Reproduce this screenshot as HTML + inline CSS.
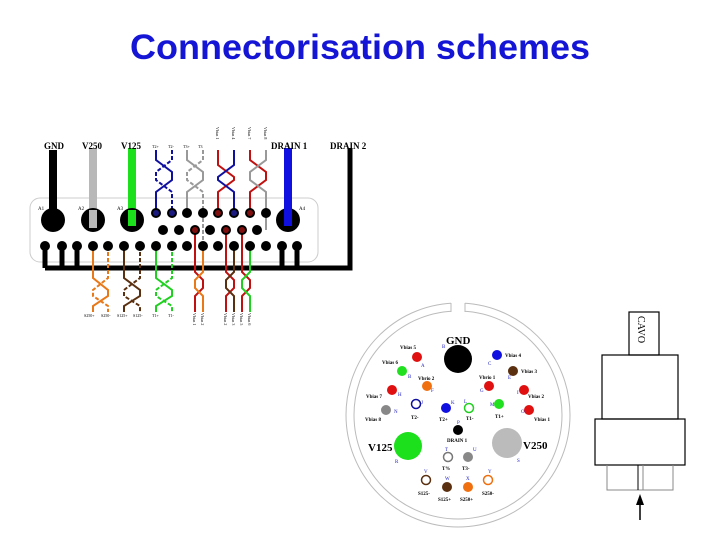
<!DOCTYPE html>
<html><head><meta charset="utf-8"><style>
body{margin:0;background:#fff;width:720px;height:540px;overflow:hidden}
svg{display:block}
text{font-family:"Liberation Serif",serif}
</style></head><body>
<svg width="720" height="540" viewBox="0 0 720 540" xmlns="http://www.w3.org/2000/svg">
<text x="130" y="59" textLength="460" lengthAdjust="spacingAndGlyphs" style="font-family:'Liberation Sans',sans-serif;font-size:35px;font-weight:bold;fill:#1515d6">Connectorisation schemes</text>

<rect x="30" y="198" width="288" height="64" rx="10" fill="none" stroke="#ccc" stroke-width="1"/>

<path d="M45 268 H350 V148" fill="none" stroke="#000" stroke-width="5"/>
<g stroke="#000" stroke-width="5">
<line x1="45" y1="246" x2="45" y2="268"/><line x1="62" y1="246" x2="62" y2="268"/><line x1="77" y1="246" x2="77" y2="268"/>
<line x1="282" y1="246" x2="282" y2="268"/><line x1="297" y1="246" x2="297" y2="268"/>
</g>

<line x1="53" y1="150" x2="53" y2="220" stroke="#000" stroke-width="8"/>
<line x1="93" y1="148" x2="93" y2="220" stroke="#b8b8b8" stroke-width="8"/>
<line x1="132" y1="148" x2="132" y2="220" stroke="#1be01b" stroke-width="8"/>
<circle cx="53" cy="220" r="12" fill="#000"/>
<circle cx="93" cy="220" r="12" fill="#000"/><line x1="93" y1="210" x2="93" y2="228" stroke="#b8b8b8" stroke-width="8"/>
<circle cx="132" cy="220" r="12" fill="#000"/><line x1="132" y1="210" x2="132" y2="226" stroke="#1be01b" stroke-width="8"/>
<circle cx="288" cy="220" r="12" fill="#000"/>
<line x1="288" y1="148" x2="288" y2="226" stroke="#1010e0" stroke-width="8"/>

<g font-size="9" font-weight="bold">
<text x="44" y="149">GND</text><text x="82" y="149">V250</text><text x="121" y="149">V125</text>
<text x="271" y="149">DRAIN 1</text><text x="330" y="149">DRAIN 2</text>
</g>
<g font-size="5">
<text x="38" y="210">A1</text><text x="78" y="210">A2</text><text x="117" y="210">A3</text><text x="299" y="210">A4</text>
</g>

<g fill="none" stroke-width="2">
<path d="M156 150V160L172 172V180L156 192V213" stroke="#1010a0"/>
<path d="M172 150V160L156 172V180L172 192V213" stroke="#1010a0" stroke-dasharray="4 2"/>
<path d="M187 150V160L203 172V180L187 192V213" stroke="#999"/>
<path d="M203 150V160L187 172V180L203 192V246" stroke="#999" stroke-dasharray="4 2"/>
<path d="M218 150V165L234 177V180L218 192V213" stroke="#c01010"/>
<path d="M234 150V165L218 177V180L234 192V213" stroke="#1010a0"/>
<path d="M250 150V160L266 172V180L250 192V213" stroke="#c01010"/>
<path d="M266 150V160L250 172V180L266 192V230" stroke="#999"/>
</g>
<g font-size="4">
<text x="152" y="148">T2+</text><text x="168" y="148">T2-</text><text x="183" y="148">T3+</text><text x="198" y="148">T3</text>
</g>
<g font-size="4">
<text transform="translate(216,145) rotate(90)" x="-18">Vbias 1</text>
<text transform="translate(232,145) rotate(90)" x="-18">Vbias 4</text>
<text transform="translate(248,145) rotate(90)" x="-18">Vbias 7</text>
<text transform="translate(264,145) rotate(90)" x="-18">Vbias 8</text>
</g>

<g fill="none" stroke-width="2">
<path d="M93 246V278L108 290V296L93 306V312" stroke="#e87818"/>
<path d="M108 246V278L93 290V296L108 306V312" stroke="#e87818" stroke-dasharray="4 2"/>
<path d="M124 246V278L140 290V296L124 306V312" stroke="#5a3010"/>
<path d="M140 246V278L124 290V296L140 306V312" stroke="#5a3010" stroke-dasharray="4 2"/>
<path d="M156 246V278L172 290V296L156 306V312" stroke="#20d020"/>
<path d="M172 246V278L156 290V296L172 306V312" stroke="#20d020" stroke-dasharray="4 2"/>
<path d="M195 230V272L203 280V288L195 296V312" stroke="#c01010"/>
<path d="M203 246V272L195 280V288L203 296V312" stroke="#e87818"/>
<path d="M226 230V272L234 280V288L226 296V312" stroke="#c01010"/>
<path d="M234 246V272L226 280V288L234 296V312" stroke="#5a3010"/>
<path d="M242 230V272L250 280V288L242 296V312" stroke="#c01010"/>
<path d="M250 246V272L242 280V288L250 296V312" stroke="#20d020"/>
</g>
<g font-size="4">
<text x="84" y="317">S250+</text><text x="101" y="317">S250-</text><text x="117" y="317">S125+</text><text x="133" y="317">S125-</text><text x="152" y="317">T1+</text><text x="168" y="317">T1-</text>
</g>
<g font-size="4">
<text transform="translate(193,313) rotate(90)">Vbias 1</text>
<text transform="translate(201,313) rotate(90)">Vbias 2</text>
<text transform="translate(224,313) rotate(90)">Vbias 2</text>
<text transform="translate(232,313) rotate(90)">Vbias 3</text>
<text transform="translate(240,313) rotate(90)">Vbias 5</text>
<text transform="translate(248,313) rotate(90)">Vbias 6</text>
</g>

<g fill="#000">
<circle cx="156" cy="213" r="5"/><circle cx="172" cy="213" r="5"/><circle cx="187" cy="213" r="5"/><circle cx="203" cy="213" r="5"/><circle cx="218" cy="213" r="5"/><circle cx="234" cy="213" r="5"/><circle cx="250" cy="213" r="5"/><circle cx="266" cy="213" r="5"/>
<circle cx="163" cy="230" r="5"/><circle cx="179" cy="230" r="5"/><circle cx="195" cy="230" r="5"/><circle cx="210" cy="230" r="5"/><circle cx="226" cy="230" r="5"/><circle cx="242" cy="230" r="5"/><circle cx="257" cy="230" r="5"/>
<circle cx="45" cy="246" r="5"/><circle cx="62" cy="246" r="5"/><circle cx="77" cy="246" r="5"/><circle cx="93" cy="246" r="5"/><circle cx="108" cy="246" r="5"/><circle cx="124" cy="246" r="5"/><circle cx="140" cy="246" r="5"/><circle cx="156" cy="246" r="5"/><circle cx="172" cy="246" r="5"/><circle cx="187" cy="246" r="5"/><circle cx="203" cy="246" r="5"/><circle cx="218" cy="246" r="5"/><circle cx="234" cy="246" r="5"/><circle cx="250" cy="246" r="5"/><circle cx="266" cy="246" r="5"/><circle cx="282" cy="246" r="5"/><circle cx="297" cy="246" r="5"/>
</g>
<g fill="#1a1a80"><circle cx="156" cy="213" r="3"/><circle cx="172" cy="213" r="3"/><circle cx="234" cy="213" r="3"/></g>
<g fill="#801010"><circle cx="218" cy="213" r="3"/><circle cx="250" cy="213" r="3"/><circle cx="195" cy="230" r="3"/><circle cx="226" cy="230" r="3"/><circle cx="242" cy="230" r="3"/></g>

<circle cx="458" cy="415" r="112" fill="none" stroke="#bbb" stroke-width="1"/>
<circle cx="458" cy="415" r="104" fill="none" stroke="#bbb" stroke-width="1"/>
<rect x="451" y="300" width="14" height="14" fill="#fff"/>
<line x1="451" y1="303" x2="451" y2="312" stroke="#bbb"/><line x1="465" y1="303" x2="465" y2="312" stroke="#bbb"/>

<circle cx="458" cy="359" r="14" fill="#000"/>
<circle cx="408" cy="446" r="14" fill="#1be01b"/>
<circle cx="507" cy="443" r="15" fill="#bbb"/>
<g>
<circle cx="417" cy="357" r="5" fill="#e01010"/>
<circle cx="497" cy="355" r="5" fill="#1010e0"/>
<circle cx="513" cy="371" r="5" fill="#5a3010"/>
<circle cx="402" cy="371" r="5" fill="#20e020"/>
<circle cx="427" cy="386" r="5" fill="#f07010"/>
<circle cx="489" cy="386" r="5" fill="#e01010"/>
<circle cx="392" cy="390" r="5" fill="#e01010"/>
<circle cx="524" cy="390" r="5" fill="#e01010"/>
<circle cx="386" cy="410" r="5" fill="#888"/>
<circle cx="416" cy="404" r="4.5" fill="none" stroke="#1010a0" stroke-width="1.5"/>
<circle cx="446" cy="408" r="5" fill="#1010e0"/>
<circle cx="469" cy="408" r="4.5" fill="none" stroke="#20d020" stroke-width="1.5"/>
<circle cx="499" cy="404" r="5" fill="#20e020"/>
<circle cx="529" cy="410" r="5" fill="#e01010"/>
<circle cx="458" cy="430" r="5" fill="#000"/>
<circle cx="448" cy="457" r="4.5" fill="none" stroke="#777" stroke-width="1.5"/>
<circle cx="468" cy="457" r="5" fill="#888"/>
<circle cx="426" cy="480" r="4.5" fill="none" stroke="#5a3010" stroke-width="1.5"/>
<circle cx="447" cy="487" r="5" fill="#5a3010"/>
<circle cx="468" cy="487" r="5" fill="#f07010"/>
<circle cx="488" cy="480" r="4.5" fill="none" stroke="#f07010" stroke-width="1.5"/>
</g>
<g font-size="5" font-weight="bold">
<text x="400" y="349">Vbias 5</text><text x="505" y="357">Vbias 4</text><text x="521" y="373">Vbias 3</text>
<text x="382" y="364">Vbias 6</text><text x="418" y="380">Vbrio 2</text><text x="479" y="379">Vbrio 1</text>
<text x="366" y="398">Vbias 7</text><text x="528" y="398">Vbias 2</text><text x="365" y="421">Vbias 8</text>
<text x="411" y="419">T2-</text><text x="439" y="421">T2+</text><text x="466" y="420">T1-</text><text x="495" y="418">T1+</text>
<text x="534" y="421">Vbias 1</text><text x="447" y="442">DRAIN 1</text>
<text x="442" y="470">T%</text><text x="462" y="470">T3-</text>
<text x="418" y="495">S125-</text><text x="438" y="501">S125+</text><text x="460" y="501">S250+</text><text x="482" y="495">S250-</text>
</g>
<text x="446" y="344" font-size="11" font-weight="bold">GND</text>
<text x="368" y="451" font-size="11" font-weight="bold">V125</text>
<text x="523" y="449" font-size="11" font-weight="bold">V250</text>
<g font-size="5" fill="#2020c0">
<text x="442" y="348">B</text><text x="421" y="367">A</text><text x="488" y="365">C</text><text x="508" y="379">E</text><text x="408" y="378">B</text>
<text x="431" y="392">F</text><text x="480" y="392">G</text><text x="398" y="396">H</text><text x="517" y="394">I</text>
<text x="394" y="413">N</text><text x="421" y="404">J</text><text x="451" y="404">K</text><text x="464" y="403">L</text><text x="490" y="406">M</text><text x="521" y="413">O</text>
<text x="457" y="424">P</text><text x="395" y="463">R</text><text x="517" y="462">S</text><text x="445" y="451">T</text><text x="473" y="451">U</text>
<text x="424" y="473">V</text><text x="445" y="480">W</text><text x="466" y="480">X</text><text x="488" y="473">Y</text>
</g>

<g fill="none" stroke="#000" stroke-width="1.2">
<rect x="629" y="312" width="30" height="43"/>
<rect x="602" y="355" width="76" height="64"/>
<rect x="595" y="419" width="90" height="46"/>
</g>
<g fill="none" stroke="#888" stroke-width="1">
<path d="M607 465V490H673V465"/>
<line x1="638" y1="465" x2="638" y2="490" stroke="#000"/><line x1="643" y1="465" x2="643" y2="490"/>
</g>
<text transform="translate(638,316) rotate(90)" font-size="10">CAVO</text>
<line x1="640" y1="520" x2="640" y2="503" stroke="#000" stroke-width="1.5"/>
<path d="M636 505L640 494L644 505Z" fill="#000"/>
</svg>
</body></html>
